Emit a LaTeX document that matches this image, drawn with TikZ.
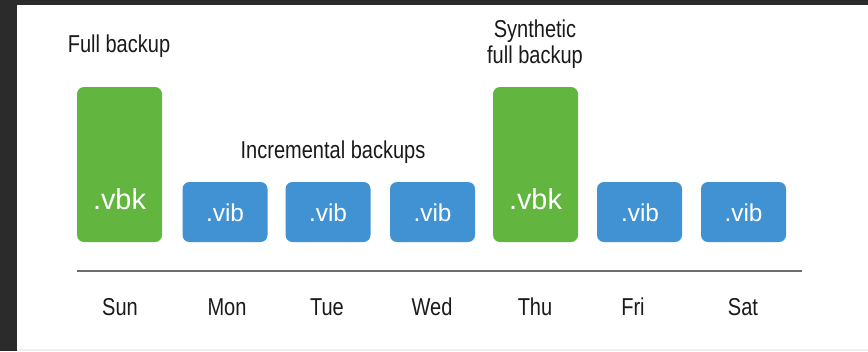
\documentclass[tikz,border=0pt]{standalone}
\usepackage{fontspec}
\setmainfont{Liberation Sans}
\newfontfamily\narrowfont[FakeStretch=0.82]{Liberation Sans}
\definecolor{vgreen}{HTML}{62B53F}
\definecolor{vblue}{HTML}{4192D2}
\definecolor{framec}{HTML}{2B2B2B}
\definecolor{txtc}{HTML}{1A1A1A}
\begin{document}
\begin{tikzpicture}[x=1bp,y=-1bp,
  fullbox/.style={fill=vgreen, draw=none, rounded corners=7bp, minimum width=85bp, minimum height=155bp, inner sep=0pt},
  incbox/.style={fill=vblue, draw=none, rounded corners=7bp, minimum width=85bp, minimum height=60bp, inner sep=0pt},
  lbl/.style={font=\narrowfont\fontsize{24.5}{26}\selectfont, text=txtc, align=center, inner sep=0pt, anchor=base},
  ftxt/.style={font=\fontsize{29}{32}\selectfont, text=white, inner sep=0pt, anchor=base},
  itxt/.style={font=\fontsize{24.5}{26}\selectfont, text=white, inner sep=0pt, anchor=base},
  axisline/.style={draw=gray!85!black, line width=1.3bp}
]
\useasboundingbox (0,0) rectangle (868,351);
\fill[white] (0,0) rectangle (868,351);
\fill[framec] (0,0) rectangle (868,5);
\fill[framec] (0,0) rectangle (17,351);
\fill[gray!12] (17,349) rectangle (868,351);

% boxes
\node[fullbox] (sun) at (119.5,164.5) {};
\node[incbox] (mon) at (225,212) {};
\node[incbox] (tue) at (328,212) {};
\node[incbox] (wed) at (432.5,212) {};
\node[fullbox] (thu) at (535.5,164.5) {};
\node[incbox] (fri) at (639.5,212) {};
\node[incbox] (sat) at (743.5,212) {};

% box texts
\node[ftxt] (suntxt) at (119.5,209) {.vbk};
\node[ftxt] (thutxt) at (535.5,209) {.vbk};
\node[itxt] (montxt) at (225,221) {.vib};
\node[itxt] (tuetxt) at (328,221) {.vib};
\node[itxt] (wedtxt) at (432.5,221) {.vib};
\node[itxt] (fritxt) at (640,221) {.vib};
\node[itxt] (sattxt) at (743.5,221) {.vib};

% headings
\node[lbl] (hfull) at (119,52) {Full backup};
\node[lbl] (hsyn) at (535,63) {Synthetic\\full backup};
\node[lbl] (hinc) at (333,158) {Incremental backups};

% axis line
\coordinate (la) at (77,271);
\coordinate (lb) at (802,271);
\draw[axisline] (la) -- (lb);

% day labels
\node[lbl] (dsun) at (120,315) {Sun};
\node[lbl] (dmon) at (227,315) {Mon};
\node[lbl] (dtue) at (327,315) {Tue};
\node[lbl] (dwed) at (432,315) {Wed};
\node[lbl] (dthu) at (535,315) {Thu};
\node[lbl] (dfri) at (633,315) {Fri};
\node[lbl] (dsat) at (743,315) {Sat};
\end{tikzpicture}
\end{document}
